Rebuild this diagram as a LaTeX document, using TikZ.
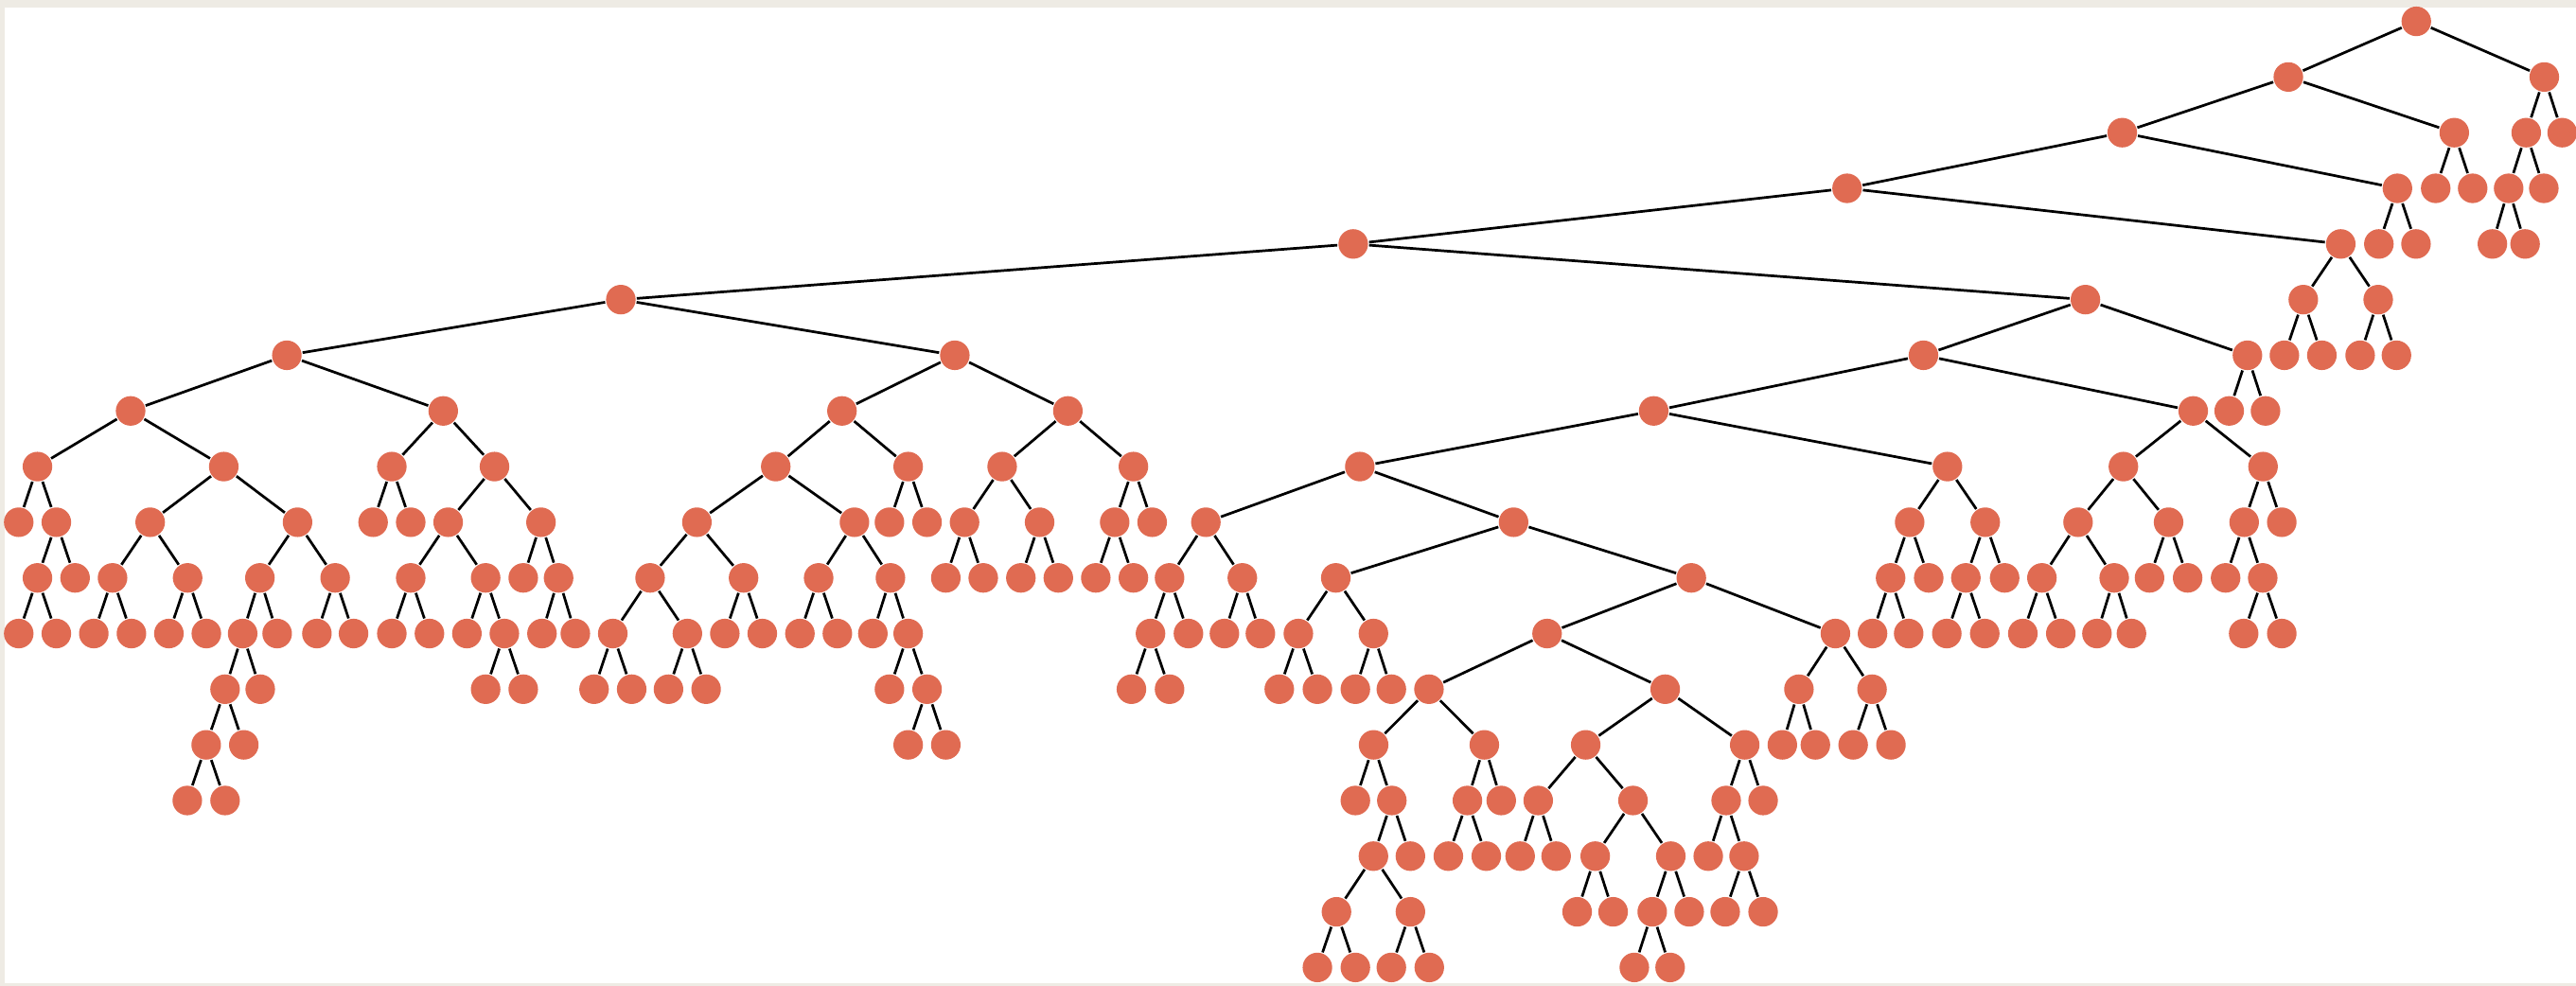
\documentclass[tikz,border=0pt]{standalone}
\usepackage{tikz}
\definecolor{knotred}{RGB}{224,107,82}
\definecolor{framegray}{RGB}{238,235,228}
\begin{document}
\begin{tikzpicture}[x=0.1mm, y=-3.388mm,
  treenode/.style={circle, fill=knotred, draw=none, minimum size=1.8mm, inner sep=0pt},
  branch/.style={black, line width=0.45pt}]

\useasboundingbox (0,-0.3837) rectangle (1568,17.326);
\fill[framegray] (0,-0.3837) rectangle (1568,17.326);
\fill[white] (2.9,-0.248) rectangle (1575,17.276);

\node[treenode] (a1) at (1470.8,0) {};
\node[treenode] (b1) at (1392.9,1) {};
\node[treenode] (b2) at (1548.7,1) {};
\node[treenode] (c1) at (1291.8,2) {};
\node[treenode] (c2) at (1493.9,2) {};
\node[treenode] (c3) at (1537.7,2) {};
\node[treenode] (c4) at (1559.6,2) {};
\node[treenode] (d1) at (1124.3,3) {};
\node[treenode] (d2) at (1459.3,3) {};
\node[treenode] (d3) at (1482.6,3) {};
\node[treenode] (d4) at (1505.1,3) {};
\node[treenode] (d5) at (1527,3) {};
\node[treenode] (d6) at (1548.4,3) {};
\node[treenode] (e1) at (823.7,4) {};
\node[treenode] (e2) at (1424.8,4) {};
\node[treenode] (e3) at (1448,4) {};
\node[treenode] (e4) at (1470.6,4) {};
\node[treenode] (e5) at (1517.1,4) {};
\node[treenode] (e6) at (1537,4) {};
\node[treenode] (f1) at (377.9,5) {};
\node[treenode] (f2) at (1269.4,5) {};
\node[treenode] (f3) at (1402,5) {};
\node[treenode] (f4) at (1447.6,5) {};
\node[treenode] (g1) at (174.6,6) {};
\node[treenode] (g2) at (581.2,6) {};
\node[treenode] (g3) at (1170.8,6) {};
\node[treenode] (g4) at (1368,6) {};
\node[treenode] (g5) at (1390.5,6) {};
\node[treenode] (g6) at (1413.3,6) {};
\node[treenode] (g7) at (1436.6,6) {};
\node[treenode] (g8) at (1458.7,6) {};
\node[treenode] (h1) at (79.5,7) {};
\node[treenode] (h2) at (269.8,7) {};
\node[treenode] (h3) at (512.5,7) {};
\node[treenode] (h4) at (650,7) {};
\node[treenode] (h5) at (1006.6,7) {};
\node[treenode] (h6) at (1335,7) {};
\node[treenode] (h7) at (1356.9,7) {};
\node[treenode] (h8) at (1379,7) {};
\node[treenode] (i1) at (22.8,8) {};
\node[treenode] (i2) at (136.2,8) {};
\node[treenode] (i3) at (238.5,8) {};
\node[treenode] (i4) at (301,8) {};
\node[treenode] (i5) at (472.2,8) {};
\node[treenode] (i6) at (552.8,8) {};
\node[treenode] (i7) at (610,8) {};
\node[treenode] (i8) at (689.9,8) {};
\node[treenode] (i9) at (827.7,8) {};
\node[treenode] (i10) at (1185.4,8) {};
\node[treenode] (i11) at (1292.5,8) {};
\node[treenode] (i12) at (1377.5,8) {};
\node[treenode] (j1) at (11.4,9) {};
\node[treenode] (j2) at (34.3,9) {};
\node[treenode] (j3) at (91.4,9) {};
\node[treenode] (j4) at (181.1,9) {};
\node[treenode] (j5) at (227.1,9) {};
\node[treenode] (j6) at (250,9) {};
\node[treenode] (j7) at (272.8,9) {};
\node[treenode] (j8) at (329.3,9) {};
\node[treenode] (j9) at (424.2,9) {};
\node[treenode] (j10) at (520.1,9) {};
\node[treenode] (j11) at (541.4,9) {};
\node[treenode] (j12) at (564.3,9) {};
\node[treenode] (j13) at (587.1,9) {};
\node[treenode] (j14) at (632.8,9) {};
\node[treenode] (j15) at (678.5,9) {};
\node[treenode] (j16) at (701.3,9) {};
\node[treenode] (j17) at (734,9) {};
\node[treenode] (j18) at (921.3,9) {};
\node[treenode] (j19) at (1162.4,9) {};
\node[treenode] (j20) at (1208.4,9) {};
\node[treenode] (j21) at (1264.9,9) {};
\node[treenode] (j22) at (1320,9) {};
\node[treenode] (j23) at (1366,9) {};
\node[treenode] (j24) at (1388.9,9) {};
\node[treenode] (k1) at (22.8,10) {};
\node[treenode] (k2) at (45.7,10) {};
\node[treenode] (k3) at (68.5,10) {};
\node[treenode] (k4) at (114.2,10) {};
\node[treenode] (k5) at (158.2,10) {};
\node[treenode] (k6) at (204,10) {};
\node[treenode] (k7) at (250,10) {};
\node[treenode] (k8) at (295.6,10) {};
\node[treenode] (k9) at (318.5,10) {};
\node[treenode] (k10) at (340,10) {};
\node[treenode] (k11) at (395.7,10) {};
\node[treenode] (k12) at (452.6,10) {};
\node[treenode] (k13) at (498.3,10) {};
\node[treenode] (k14) at (542,10) {};
\node[treenode] (k15) at (575.7,10) {};
\node[treenode] (k16) at (598.5,10) {};
\node[treenode] (k17) at (621.4,10) {};
\node[treenode] (k18) at (644.2,10) {};
\node[treenode] (k19) at (667,10) {};
\node[treenode] (k20) at (689.9,10) {};
\node[treenode] (k21) at (711.9,10) {};
\node[treenode] (k22) at (756.2,10) {};
\node[treenode] (k23) at (813.1,10) {};
\node[treenode] (k24) at (1029.5,10) {};
\node[treenode] (k25) at (1150.8,10) {};
\node[treenode] (k26) at (1174,10) {};
\node[treenode] (k27) at (1196.6,10) {};
\node[treenode] (k28) at (1220.2,10) {};
\node[treenode] (k29) at (1242.9,10) {};
\node[treenode] (k30) at (1286.9,10) {};
\node[treenode] (k31) at (1308.4,10) {};
\node[treenode] (k32) at (1331.6,10) {};
\node[treenode] (k33) at (1354.7,10) {};
\node[treenode] (k34) at (1377.3,10) {};
\node[treenode] (l1) at (11.4,11) {};
\node[treenode] (l2) at (34.3,11) {};
\node[treenode] (l3) at (57.1,11) {};
\node[treenode] (l4) at (80,11) {};
\node[treenode] (l5) at (102.8,11) {};
\node[treenode] (l6) at (125.6,11) {};
\node[treenode] (l7) at (147.7,11) {};
\node[treenode] (l8) at (168.7,11) {};
\node[treenode] (l9) at (192.9,11) {};
\node[treenode] (l10) at (215.2,11) {};
\node[treenode] (l11) at (238.5,11) {};
\node[treenode] (l12) at (261.4,11) {};
\node[treenode] (l13) at (284.2,11) {};
\node[treenode] (l14) at (307,11) {};
\node[treenode] (l15) at (329.9,11) {};
\node[treenode] (l16) at (350.2,11) {};
\node[treenode] (l17) at (373,11) {};
\node[treenode] (l18) at (418.4,11) {};
\node[treenode] (l19) at (441.2,11) {};
\node[treenode] (l20) at (464,11) {};
\node[treenode] (l21) at (486.9,11) {};
\node[treenode] (l22) at (509.7,11) {};
\node[treenode] (l23) at (531.3,11) {};
\node[treenode] (l24) at (552.8,11) {};
\node[treenode] (l25) at (700.3,11) {};
\node[treenode] (l26) at (723.4,11) {};
\node[treenode] (l27) at (745.3,11) {};
\node[treenode] (l28) at (767.2,11) {};
\node[treenode] (l29) at (790.3,11) {};
\node[treenode] (l30) at (836,11) {};
\node[treenode] (l31) at (941.7,11) {};
\node[treenode] (l32) at (1117.2,11) {};
\node[treenode] (l33) at (1139.8,11) {};
\node[treenode] (l34) at (1161.8,11) {};
\node[treenode] (l35) at (1185,11) {};
\node[treenode] (l36) at (1208.1,11) {};
\node[treenode] (l37) at (1231.3,11) {};
\node[treenode] (l38) at (1254.4,11) {};
\node[treenode] (l39) at (1276.4,11) {};
\node[treenode] (l40) at (1297.4,11) {};
\node[treenode] (l41) at (1365.7,11) {};
\node[treenode] (l42) at (1388.9,11) {};
\node[treenode] (m1) at (137,12) {};
\node[treenode] (m2) at (158.4,12) {};
\node[treenode] (m3) at (295.6,12) {};
\node[treenode] (m4) at (318.5,12) {};
\node[treenode] (m5) at (361.6,12) {};
\node[treenode] (m6) at (384.5,12) {};
\node[treenode] (m7) at (406.9,12) {};
\node[treenode] (m8) at (429.8,12) {};
\node[treenode] (m9) at (541.4,12) {};
\node[treenode] (m10) at (564.3,12) {};
\node[treenode] (m11) at (688.7,12) {};
\node[treenode] (m12) at (711.9,12) {};
\node[treenode] (m13) at (778.7,12) {};
\node[treenode] (m14) at (801.9,12) {};
\node[treenode] (m15) at (825,12) {};
\node[treenode] (m16) at (846.9,12) {};
\node[treenode] (m17) at (869.8,12) {};
\node[treenode] (m18) at (1013.6,12) {};
\node[treenode] (m19) at (1095,12) {};
\node[treenode] (m20) at (1139.5,12) {};
\node[treenode] (n1) at (125.5,13) {};
\node[treenode] (n2) at (148.4,13) {};
\node[treenode] (n3) at (552.8,13) {};
\node[treenode] (n4) at (575.7,13) {};
\node[treenode] (n5) at (836.1,13) {};
\node[treenode] (n6) at (903.5,13) {};
\node[treenode] (n7) at (965.2,13) {};
\node[treenode] (n8) at (1062,13) {};
\node[treenode] (n9) at (1084.9,13) {};
\node[treenode] (n10) at (1105,13) {};
\node[treenode] (n11) at (1128,13) {};
\node[treenode] (n12) at (1151,13) {};
\node[treenode] (o1) at (114,14) {};
\node[treenode] (o2) at (137,14) {};
\node[treenode] (o3) at (825,14) {};
\node[treenode] (o4) at (847.2,14) {};
\node[treenode] (o5) at (893.2,14) {};
\node[treenode] (o6) at (913.8,14) {};
\node[treenode] (o7) at (936.3,14) {};
\node[treenode] (o8) at (994,14) {};
\node[treenode] (o9) at (1050.7,14) {};
\node[treenode] (o10) at (1073.2,14) {};
\node[treenode] (p1) at (836,15) {};
\node[treenode] (p2) at (858.5,15) {};
\node[treenode] (p3) at (881.6,15) {};
\node[treenode] (p4) at (904.7,15) {};
\node[treenode] (p5) at (925.3,15) {};
\node[treenode] (p6) at (947.2,15) {};
\node[treenode] (p7) at (971,15) {};
\node[treenode] (p8) at (1017,15) {};
\node[treenode] (p9) at (1039.8,15) {};
\node[treenode] (p10) at (1061.6,15) {};
\node[treenode] (q1) at (813.5,16) {};
\node[treenode] (q2) at (858.5,16) {};
\node[treenode] (q3) at (960,16) {};
\node[treenode] (q4) at (981.9,16) {};
\node[treenode] (q5) at (1005.7,16) {};
\node[treenode] (q6) at (1028.2,16) {};
\node[treenode] (q7) at (1050.1,16) {};
\node[treenode] (q8) at (1073.2,16) {};
\node[treenode] (r1) at (801.9,17) {};
\node[treenode] (r2) at (825,17) {};
\node[treenode] (r3) at (846.9,17) {};
\node[treenode] (r4) at (870,17) {};
\node[treenode] (r5) at (994.8,17) {};
\node[treenode] (r6) at (1016.6,17) {};

\draw[branch] (b1) -- (a1) -- (b2);
\draw[branch] (c1) -- (b1) -- (c2);
\draw[branch] (c3) -- (b2) -- (c4);
\draw[branch] (d1) -- (c1) -- (d2);
\draw[branch] (d3) -- (c2) -- (d4);
\draw[branch] (d5) -- (c3) -- (d6);
\draw[branch] (e1) -- (d1) -- (e2);
\draw[branch] (e3) -- (d2) -- (e4);
\draw[branch] (e5) -- (d5) -- (e6);
\draw[branch] (f1) -- (e1) -- (f2);
\draw[branch] (f3) -- (e2) -- (f4);
\draw[branch] (g1) -- (f1) -- (g2);
\draw[branch] (g3) -- (f2) -- (g4);
\draw[branch] (g5) -- (f3) -- (g6);
\draw[branch] (g7) -- (f4) -- (g8);
\draw[branch] (h1) -- (g1) -- (h2);
\draw[branch] (h3) -- (g2) -- (h4);
\draw[branch] (h5) -- (g3) -- (h6);
\draw[branch] (h7) -- (g4) -- (h8);
\draw[branch] (i1) -- (h1) -- (i2);
\draw[branch] (i3) -- (h2) -- (i4);
\draw[branch] (i5) -- (h3) -- (i6);
\draw[branch] (i7) -- (h4) -- (i8);
\draw[branch] (i9) -- (h5) -- (i10);
\draw[branch] (i11) -- (h6) -- (i12);
\draw[branch] (j1) -- (i1) -- (j2);
\draw[branch] (j3) -- (i2) -- (j4);
\draw[branch] (j5) -- (i3) -- (j6);
\draw[branch] (j7) -- (i4) -- (j8);
\draw[branch] (j9) -- (i5) -- (j10);
\draw[branch] (j11) -- (i6) -- (j12);
\draw[branch] (j13) -- (i7) -- (j14);
\draw[branch] (j15) -- (i8) -- (j16);
\draw[branch] (j17) -- (i9) -- (j18);
\draw[branch] (j19) -- (i10) -- (j20);
\draw[branch] (j21) -- (i11) -- (j22);
\draw[branch] (j23) -- (i12) -- (j24);
\draw[branch] (k1) -- (j2) -- (k2);
\draw[branch] (k3) -- (j3) -- (k4);
\draw[branch] (k5) -- (j4) -- (k6);
\draw[branch] (k7) -- (j7) -- (k8);
\draw[branch] (k9) -- (j8) -- (k10);
\draw[branch] (k11) -- (j9) -- (k12);
\draw[branch] (k13) -- (j10) -- (k14);
\draw[branch] (k15) -- (j13) -- (k16);
\draw[branch] (k17) -- (j14) -- (k18);
\draw[branch] (k19) -- (j15) -- (k20);
\draw[branch] (k21) -- (j17) -- (k22);
\draw[branch] (k23) -- (j18) -- (k24);
\draw[branch] (k25) -- (j19) -- (k26);
\draw[branch] (k27) -- (j20) -- (k28);
\draw[branch] (k29) -- (j21) -- (k30);
\draw[branch] (k31) -- (j22) -- (k32);
\draw[branch] (k33) -- (j23) -- (k34);
\draw[branch] (l1) -- (k1) -- (l2);
\draw[branch] (l3) -- (k3) -- (l4);
\draw[branch] (l5) -- (k4) -- (l6);
\draw[branch] (l7) -- (k5) -- (l8);
\draw[branch] (l9) -- (k6) -- (l10);
\draw[branch] (l11) -- (k7) -- (l12);
\draw[branch] (l13) -- (k8) -- (l14);
\draw[branch] (l15) -- (k10) -- (l16);
\draw[branch] (l17) -- (k11) -- (l18);
\draw[branch] (l19) -- (k12) -- (l20);
\draw[branch] (l21) -- (k13) -- (l22);
\draw[branch] (l23) -- (k14) -- (l24);
\draw[branch] (l25) -- (k21) -- (l26);
\draw[branch] (l27) -- (k22) -- (l28);
\draw[branch] (l29) -- (k23) -- (l30);
\draw[branch] (l31) -- (k24) -- (l32);
\draw[branch] (l33) -- (k25) -- (l34);
\draw[branch] (l35) -- (k27) -- (l36);
\draw[branch] (l37) -- (k29) -- (l38);
\draw[branch] (l39) -- (k30) -- (l40);
\draw[branch] (l41) -- (k34) -- (l42);
\draw[branch] (m1) -- (l7) -- (m2);
\draw[branch] (m3) -- (l14) -- (m4);
\draw[branch] (m5) -- (l17) -- (m6);
\draw[branch] (m7) -- (l18) -- (m8);
\draw[branch] (m9) -- (l24) -- (m10);
\draw[branch] (m11) -- (l25) -- (m12);
\draw[branch] (m13) -- (l29) -- (m14);
\draw[branch] (m15) -- (l30) -- (m16);
\draw[branch] (m17) -- (l31) -- (m18);
\draw[branch] (m19) -- (l32) -- (m20);
\draw[branch] (n1) -- (m1) -- (n2);
\draw[branch] (n3) -- (m10) -- (n4);
\draw[branch] (n5) -- (m17) -- (n6);
\draw[branch] (n7) -- (m18) -- (n8);
\draw[branch] (n9) -- (m19) -- (n10);
\draw[branch] (n11) -- (m20) -- (n12);
\draw[branch] (o1) -- (n1) -- (o2);
\draw[branch] (o3) -- (n5) -- (o4);
\draw[branch] (o5) -- (n6) -- (o6);
\draw[branch] (o7) -- (n7) -- (o8);
\draw[branch] (o9) -- (n8) -- (o10);
\draw[branch] (p1) -- (o4) -- (p2);
\draw[branch] (p3) -- (o5) -- (p4);
\draw[branch] (p5) -- (o7) -- (p6);
\draw[branch] (p7) -- (o8) -- (p8);
\draw[branch] (p9) -- (o9) -- (p10);
\draw[branch] (q1) -- (p1) -- (q2);
\draw[branch] (q3) -- (p7) -- (q4);
\draw[branch] (q5) -- (p8) -- (q6);
\draw[branch] (q7) -- (p10) -- (q8);
\draw[branch] (r1) -- (q1) -- (r2);
\draw[branch] (r3) -- (q2) -- (r4);
\draw[branch] (r5) -- (q5) -- (r6);
\end{tikzpicture}
\end{document}
